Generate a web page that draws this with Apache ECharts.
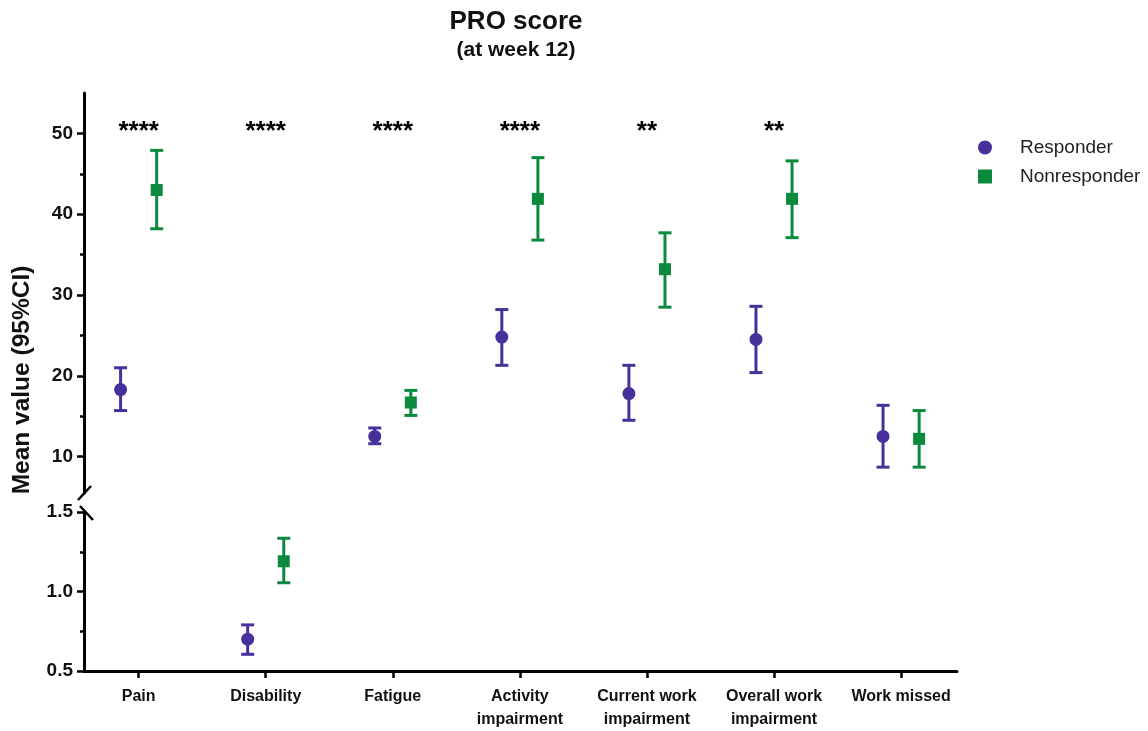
<!DOCTYPE html>
<html>
<head>
<meta charset="utf-8">
<script src="https://cdn.jsdelivr.net/npm/echarts@6/dist/echarts.min.js"></script>
<style>
html,body{margin:0;padding:0;background:#fff;}
#chart{width:1148px;height:731px;}
</style>
</head>
<body>
<div id="chart"></div>
<script>
// ---- data ----
const categories = ['Pain', 'Disability', 'Fatigue', 'Activity\nimpairment', 'Current work\nimpairment', 'Overall work\nimpairment', 'Work missed'];
const lowerPanel = [false, true, false, false, false, false, false];
const respMean = [18.3, 0.70, 12.5, 24.8, 17.8, 24.5, 12.5];
const respLow  = [15.7, 0.605, 11.6, 21.3, 14.5, 20.4, 8.7];
const respHigh = [21.0, 0.79, 13.55, 28.2, 21.3, 28.6, 16.35];
const nonMean  = [43.0, 1.19, 16.7, 41.9, 33.2, 41.9, 12.2];
const nonLow   = [38.2, 1.055, 15.1, 36.8, 28.5, 37.1, 8.7];
const nonHigh  = [47.9, 1.335, 18.2, 47.0, 37.7, 46.6, 15.7];
const significance = ['****', '****', '****', '****', '**', '**', ''];
const upperTicks = [10, 20, 30, 40, 50];
const upperMinorTicks = [15, 25, 35, 45];
const lowerTicks = [0.5, 1.0, 1.5];
const lowerMinorTicks = [0.75, 1.25];
const seriesNames = ['Responder', 'Nonresponder'];

// ---- styles ----
const PURPLE = '#48309a';
const GREEN = '#0b8a3e';
const FONT = 'Liberation Sans, Arial, sans-serif';
const OFFSET = 0.142;
const catIdx = categories.map((c, i) => i);

function pointData(mean, off, lower) {
  return catIdx.filter(i => lowerPanel[i] === lower).map(i => [i + off, mean[i]]);
}
function ciData(low, high, off, lower) {
  return catIdx.filter(i => lowerPanel[i] === lower).map(i => [i + off, low[i], high[i]]);
}
function errRender(color) {
  return function (params, api) {
    const x = api.value(0);
    const pHi = api.coord([x, api.value(2)]);
    const pLo = api.coord([x, api.value(1)]);
    const w = 6.5;
    const st = { stroke: color, lineWidth: 3 };
    return {
      type: 'group',
      children: [
        { type: 'line', shape: { x1: pHi[0], y1: pHi[1], x2: pLo[0], y2: pLo[1] }, style: st },
        { type: 'line', shape: { x1: pHi[0] - w, y1: pHi[1], x2: pHi[0] + w, y2: pHi[1] }, style: st },
        { type: 'line', shape: { x1: pLo[0] - w, y1: pLo[1], x2: pLo[0] + w, y2: pLo[1] }, style: st }
      ]
    };
  };
}

const groups = [
  { name: seriesNames[0], mean: respMean, low: respLow, high: respHigh, off: -OFFSET, color: PURPLE, symbol: 'circle', size: 13 },
  { name: seriesNames[1], mean: nonMean, low: nonLow, high: nonHigh, off: OFFSET, color: GREEN, symbol: 'rect', size: 12 }
];

const series = [];
groups.forEach(g => {
  [false, true].forEach(lower => {
    const xi = lower ? 1 : 0;
    const yi = lower ? 2 : 0;
    series.push({
      type: 'custom', name: g.name + ' CI', xAxisIndex: xi, yAxisIndex: yi,
      renderItem: errRender(g.color),
      data: ciData(g.low, g.high, g.off, lower),
      encode: { x: 0, y: [1, 2] }, z: 2, silent: true
    });
    series.push({
      type: 'scatter', name: g.name, xAxisIndex: xi, yAxisIndex: yi,
      symbol: g.symbol, symbolSize: g.size,
      itemStyle: { color: g.color, opacity: 1 },
      data: pointData(g.mean, g.off, lower), z: 3
    });
  });
});
series.push({
  type: 'scatter', name: 'sig', xAxisIndex: 0, yAxisIndex: 0,
  symbolSize: 0,
  data: catIdx.filter(i => significance[i]).map(i => [i, 50.15]),
  label: {
    show: true, position: 'inside',
    formatter: p => significance[Math.round(p.value[0])],
    color: '#000', textBorderWidth: 0, fontFamily: FONT, fontWeight: 'bold', fontSize: 26
  },
  itemStyle: { opacity: 1 },
  silent: true, z: 4
});

const axisLine = { show: true, onZero: false, lineStyle: { color: '#000', width: 3 } };
const tickStyle = { color: '#000', width: 2.5 };
const yLabel = { color: '#111', fontFamily: FONT, fontWeight: 'bold', fontSize: 19, margin: 11 };

const X_MIN = -0.43, X_MAX = 6.44;

const option = {
  backgroundColor: '#fff',
  animation: false,
  legend: {
    orient: 'vertical', left: 973, top: 133,
    itemWidth: 14, itemHeight: 14, itemGap: 10,
    data: [{ name: 'Responder', icon: 'circle' }, { name: 'Nonresponder', icon: 'rect' }],
    textStyle: { fontFamily: FONT, fontSize: 19, color: '#222', padding: [0, 0, 0, 23] }
  },
  grid: [
    { left: 84, width: 873, top: 93, height: 400 },
    { left: 84, width: 873, top: 512, height: 162 }
  ],
  xAxis: [
    { type: 'value', gridIndex: 0, min: X_MIN, max: X_MAX, show: false, splitLine: { show: false } },
    {
      type: 'value', gridIndex: 1, min: X_MIN, max: X_MAX,
      axisLine: axisLine,
      splitLine: { show: false },
      axisTick: { show: true, customValues: catIdx, length: 7, lineStyle: tickStyle },
      axisLabel: {
        customValues: catIdx,
        formatter: v => categories[Math.round(v)] || '',
        color: '#111', fontFamily: FONT, fontWeight: 'bold', fontSize: 16, lineHeight: 23, margin: 14
      }
    }
  ],
  yAxis: [
    {
      type: 'value', gridIndex: 0, position: 'left', min: 5.5, max: 55,
      axisLine: axisLine, splitLine: { show: false },
      axisTick: { show: true, customValues: upperTicks, length: 7, lineStyle: tickStyle },
      axisLabel: Object.assign({ customValues: upperTicks }, yLabel)
    },
    {
      type: 'value', gridIndex: 0, position: 'left', offset: 0, min: 5.5, max: 55,
      axisLine: { show: false, onZero: false }, splitLine: { show: false },
      axisTick: { show: true, customValues: upperMinorTicks, length: 4, lineStyle: tickStyle },
      axisLabel: { show: false }
    },
    {
      type: 'value', gridIndex: 1, position: 'left', min: 0.5, max: 1.5,
      axisLine: axisLine, splitLine: { show: false },
      axisTick: { show: true, customValues: lowerTicks, length: 7, lineStyle: tickStyle },
      axisLabel: Object.assign({ customValues: lowerTicks, formatter: v => v.toFixed(1) }, yLabel)
    },
    {
      type: 'value', gridIndex: 1, position: 'left', offset: 0, min: 0.5, max: 1.5,
      axisLine: { show: false, onZero: false }, splitLine: { show: false },
      axisTick: { show: true, customValues: lowerMinorTicks, length: 4, lineStyle: tickStyle },
      axisLabel: { show: false }
    }
  ],
  graphic: [
    { type: 'text', x: 516, y: 22, style: { text: 'PRO score', fontFamily: FONT, fontWeight: 'bold', fontSize: 26, fill: '#111', textAlign: 'center', textVerticalAlign: 'middle' } },
    { type: 'text', x: 516, y: 50, style: { text: '(at week 12)', fontFamily: FONT, fontWeight: 'bold', fontSize: 21, fill: '#111', textAlign: 'center', textVerticalAlign: 'middle' } },
    { type: 'text', x: 22, y: 380, rotation: Math.PI / 2, style: { text: 'Mean value (95%CI)', fontFamily: FONT, fontWeight: 'bold', fontSize: 24.5, fill: '#111', textAlign: 'center', textVerticalAlign: 'middle' } },
    { type: 'line', shape: { x1: 78, y1: 500, x2: 91, y2: 486 }, style: { stroke: '#000', lineWidth: 2.5 }, z: 10 },
    { type: 'line', shape: { x1: 80, y1: 506, x2: 93, y2: 520 }, style: { stroke: '#000', lineWidth: 2.5 }, z: 10 }
  ],
  series: series
};

const chart = echarts.init(document.getElementById('chart'));
chart.setOption(option);
</script>
</body>
</html>
